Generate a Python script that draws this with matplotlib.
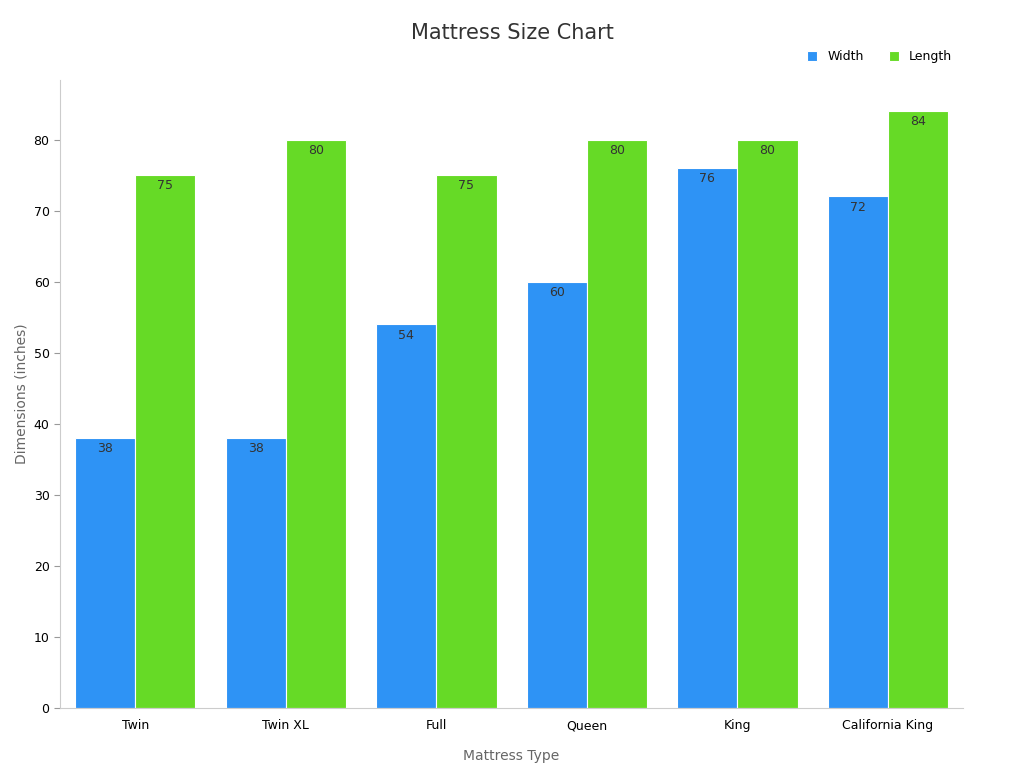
import matplotlib
matplotlib.use("Agg")
import matplotlib.pyplot as plt
import numpy as np

categories = ["Twin", "Twin XL", "Full", "Queen", "King", "California King"]
width_in = [38, 38, 54, 60, 76, 72]
length_in = [75, 80, 75, 80, 80, 84]

BLUE = "#2E93F5"
GREEN = "#66DA26"

fig = plt.figure(figsize=(10.24, 7.68), dpi=100)
ax = fig.add_axes([0.0586, 0.078, 0.882, 0.818])

x = np.arange(len(categories))
bw = 0.4
b1 = ax.bar(x - bw / 2, width_in, bw, color=BLUE, edgecolor="white", linewidth=0.8, label="Width")
b2 = ax.bar(x + bw / 2, length_in, bw, color=GREEN, edgecolor="white", linewidth=0.8, label="Length")

for bars in (b1, b2):
    for rect in bars:
        h = rect.get_height()
        ax.text(rect.get_x() + rect.get_width() / 2, h - 0.6, f"{h:g}",
                ha="center", va="top", fontsize=9, color="#333333")

ax.set_xlim(-0.5, len(categories) - 0.5)
ax.set_ylim(0, 88.4)
ax.set_yticks(range(0, 90, 10))
ax.set_xticks(x)
ax.set_xticklabels(categories, fontsize=9)
ax.tick_params(axis="y", labelsize=9, length=4, color="#999999")
ax.tick_params(axis="x", length=0, pad=8)
for s in ("top", "right"):
    ax.spines[s].set_visible(False)
for s in ("left", "bottom"):
    ax.spines[s].set_color("#cccccc")

ax.set_xlabel("Mattress Type", fontsize=10, color="#666666", labelpad=12)
ax.set_ylabel("Dimensions (inches)", fontsize=10, color="#666666")
fig.suptitle("Mattress Size Chart", fontsize=15, color="#333333", y=0.97)
ax.legend(loc="upper right", bbox_to_anchor=(1.0, 1.065), ncol=2, frameon=False,
          fontsize=9, handlelength=0.8, handleheight=0.8, columnspacing=2)

fig.savefig("out.png", dpi=100)
